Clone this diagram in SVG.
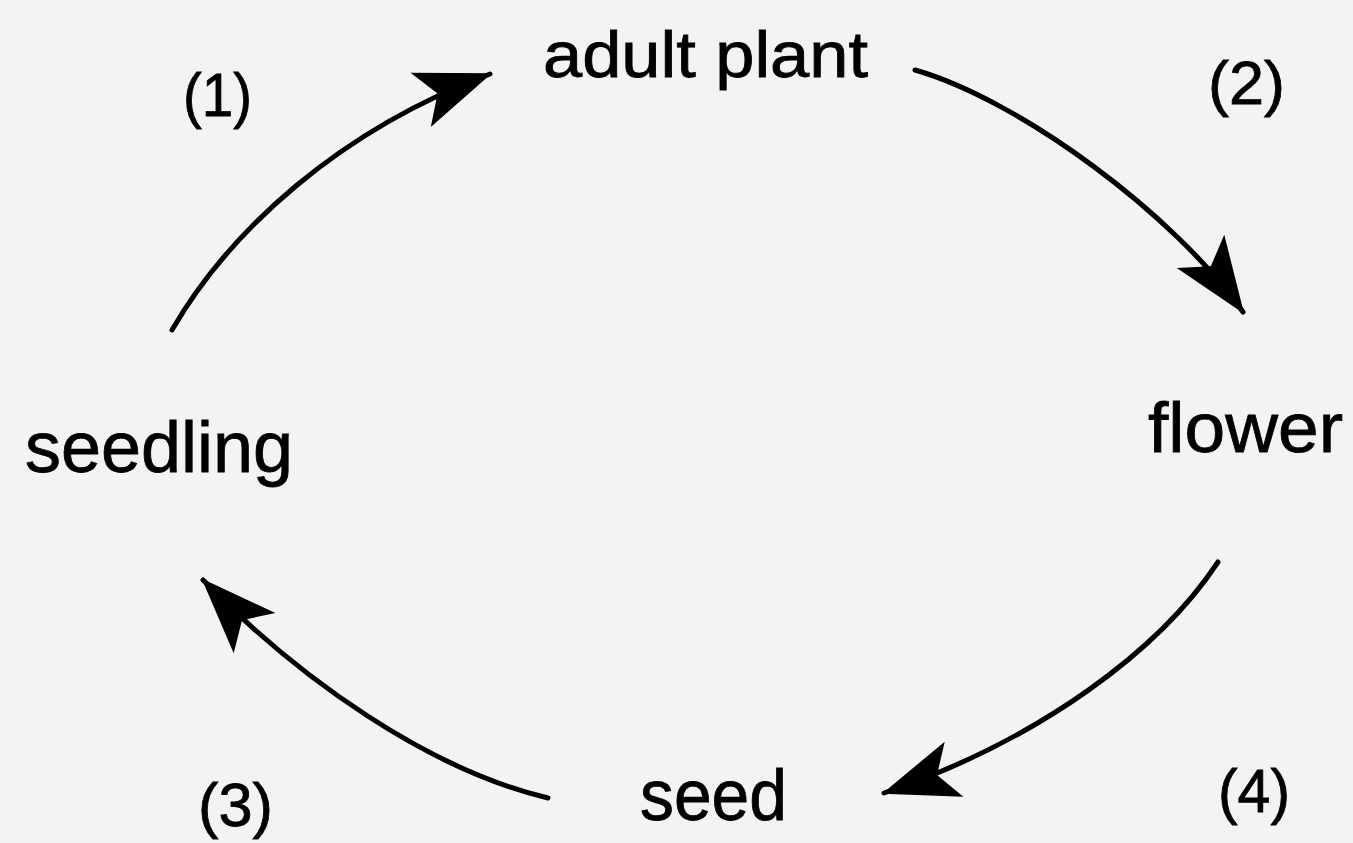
<svg xmlns="http://www.w3.org/2000/svg" width="1353" height="843" viewBox="0 0 1353 843">
<style>
.lbl{font-family:"Liberation Sans",Arial,sans-serif;fill:#000;stroke:#000;stroke-width:0.8;}
.num{font-family:"Liberation Sans",Arial,sans-serif;fill:#000;stroke:#000;stroke-width:0.8;font-size:62px;}
.conn{fill:none;stroke:#000;stroke-width:5;stroke-linecap:round;marker-end:url(#ah);}
</style>
<defs>
<marker id="ah" markerUnits="userSpaceOnUse" viewBox="-80 -35 85 70" markerWidth="85" markerHeight="70" refX="0" refY="0" orient="auto">
<path d="M2,0 L-74,-29 L-56,0 L-74,29 Z" fill="#000"/>
</marker>
</defs>
<rect width="1353" height="843" fill="#f3f3f3"/>
<g id="connectors">
<path class="conn" d="M172,330 C230,230 340,130 490,74"/>
<path class="conn" d="M915,70 C1020,100 1175,215 1243,312"/>
<path class="conn" d="M1218,562 C1160,650 1040,740 884,793"/>
<path class="conn" d="M548,798 C430,770 300,680 203,580"/>
</g>
<g id="node-adult-plant"><text class="lbl" x="543" y="77" font-size="64" textLength="325" lengthAdjust="spacingAndGlyphs">adult plant</text></g>
<g id="node-flower"><text class="lbl" x="1148" y="452" font-size="70" textLength="195" lengthAdjust="spacingAndGlyphs">flower</text></g>
<g id="node-seed"><text class="lbl" x="640" y="820" font-size="72" textLength="147" lengthAdjust="spacingAndGlyphs">seed</text></g>
<g id="node-seedling"><text class="lbl" x="25" y="472" font-size="72" textLength="268" lengthAdjust="spacingAndGlyphs">seedling</text></g>
<g id="label-1"><text class="num" x="183" y="116" textLength="69" lengthAdjust="spacingAndGlyphs">(1)</text></g>
<g id="label-2"><text class="num" x="1208" y="104" textLength="77" lengthAdjust="spacingAndGlyphs">(2)</text></g>
<g id="label-3"><text class="num" x="198" y="826" textLength="75" lengthAdjust="spacingAndGlyphs">(3)</text></g>
<g id="label-4"><text class="num" x="1218" y="812" textLength="72" lengthAdjust="spacingAndGlyphs">(4)</text></g>
</svg>
